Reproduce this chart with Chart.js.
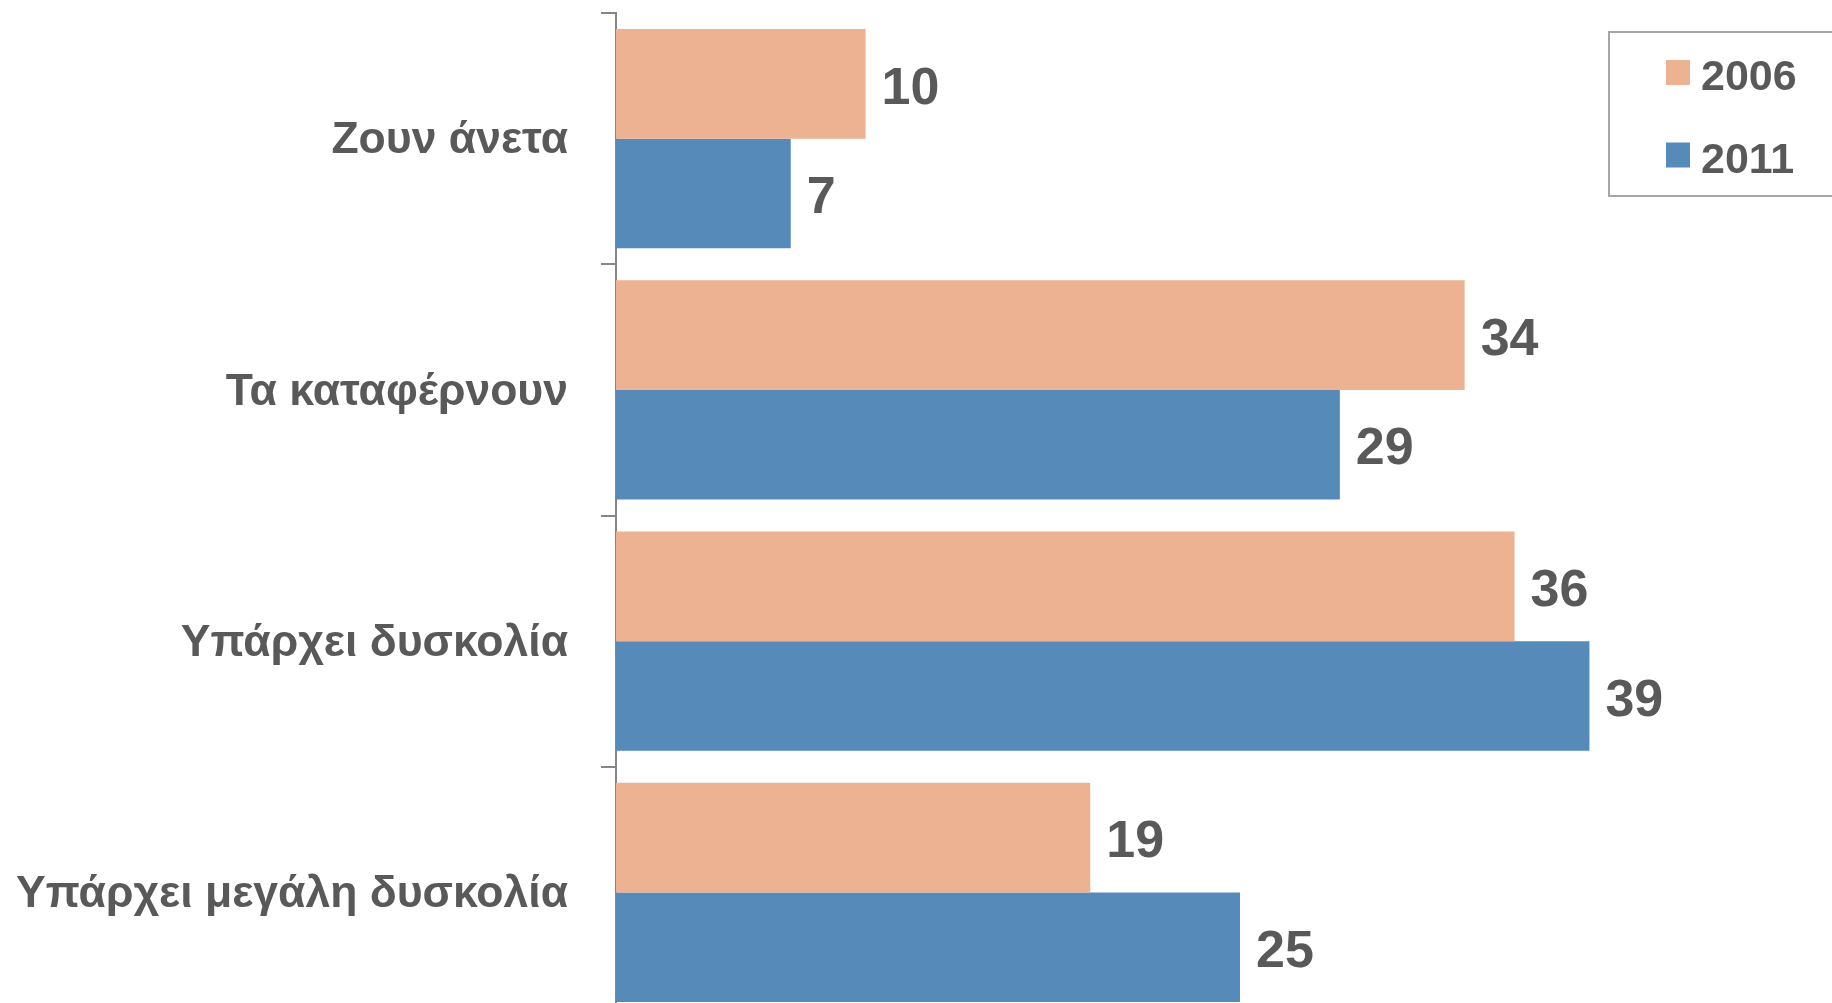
<!DOCTYPE html>
<html>
<head>
<meta charset="utf-8">
<script src="https://cdn.jsdelivr.net/npm/chart.js@4"></script>
<style>
html, body { margin: 0; padding: 0; overflow: hidden; background: #ffffff; }
#wrap { position: relative; width: 1864px; height: 1018px; }
</style>
</head>
<body>
<div id="wrap"><canvas id="c"></canvas></div>
<script>
const categories = ['Ζουν άνετα', 'Τα καταφέρνουν', 'Υπάρχει δυσκολία', 'Υπάρχει μεγάλη δυσκολία'];
const seriesNames = ['2006', '2011'];
const values2006 = [10, 34, 36, 19];
const values2011 = [7, 29, 39, 25];
const seriesColors = ['#ECB292', '#558AB9'];

const TEXT = '#595959';
const FONT = '"Liberation Sans", Arial, sans-serif';

const valueLabels = {
  id: 'valueLabels',
  afterDatasetsDraw(chart) {
    const ctx = chart.ctx;
    ctx.save();
    ctx.fillStyle = TEXT;
    ctx.font = 'bold 52px ' + FONT;
    ctx.textAlign = 'left';
    ctx.textBaseline = 'middle';
    chart.data.datasets.forEach((ds, di) => {
      chart.getDatasetMeta(di).data.forEach((bar, i) => {
        ctx.fillText(String(ds.data[i]), bar.x + 16, bar.y + 5.5);
      });
    });
    ctx.restore();
  }
};

const boxLegend = {
  id: 'boxLegend',
  afterDraw(chart) {
    const ctx = chart.ctx;
    ctx.save();
    ctx.strokeStyle = '#A6A6A6';
    ctx.lineWidth = 2;
    ctx.strokeRect(1609, 32, 240, 164);
    ctx.font = 'bold 43px ' + FONT;
    ctx.textBaseline = 'middle';
    ctx.textAlign = 'left';
    const rows = [72.5, 155];
    chart.data.datasets.forEach((ds, di) => {
      const cy = rows[di];
      ctx.fillStyle = ds.backgroundColor;
      ctx.fillRect(1666, cy - 12.5, 24, 25);
      ctx.fillStyle = TEXT;
      ctx.fillText(ds.label, 1701, cy + 6);
    });
    ctx.restore();
  }
};

new Chart(document.getElementById('c'), {
  type: 'bar',
  data: {
    labels: categories,
    datasets: [
      { label: seriesNames[0], data: values2006, backgroundColor: seriesColors[0] },
      { label: seriesNames[1], data: values2011, backgroundColor: seriesColors[1] }
    ]
  },
  options: {
    indexAxis: 'y',
    responsive: true,
    maintainAspectRatio: false,
    animation: false,
    events: [],
    layout: { padding: { top: 13, left: 0, right: 0, bottom: 0 } },
    datasets: { bar: { categoryPercentage: 0.872, barPercentage: 1.0 } },
    plugins: { legend: { display: false }, tooltip: { enabled: false } },
    scales: {
      x: { display: false, min: 0, max: 50 },
      y: {
        afterFit: (scale) => {
          scale.width = 616;
          scale.paddingTop = 0;
          scale.paddingBottom = 0;
        },
        grid: { drawOnChartArea: false, drawTicks: true, tickLength: 15, color: '#868686', lineWidth: 2 },
        border: { display: true, color: '#868686', width: 2 },
        ticks: { color: TEXT, font: { family: FONT, size: 44.5, weight: 'bold' }, padding: 33, labelOffset: 2.5 }
      }
    }
  },
  plugins: [valueLabels, boxLegend]
});
</script>
</body>
</html>
